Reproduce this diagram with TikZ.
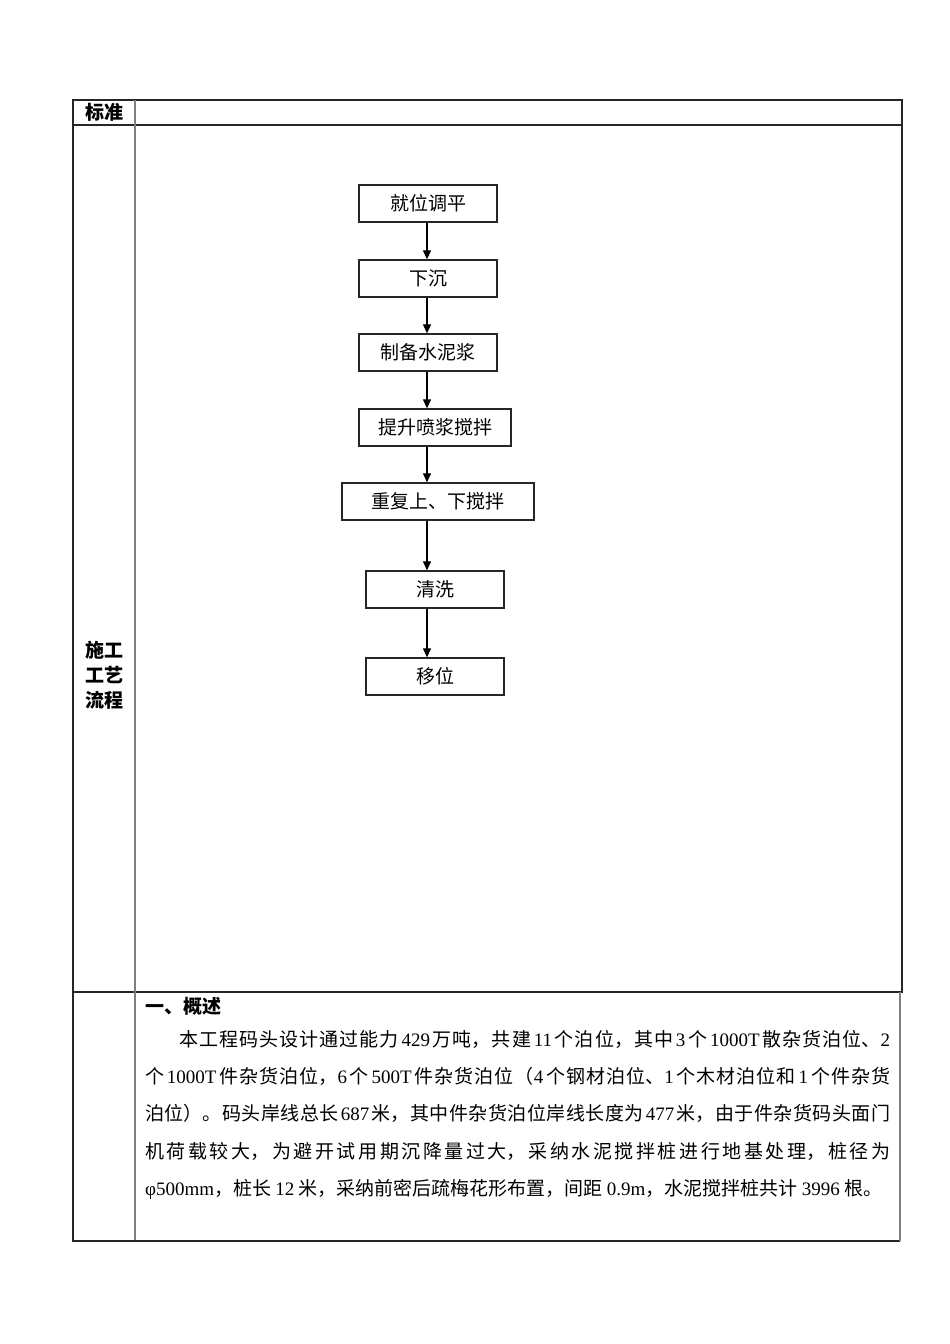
\documentclass[tikz,border=0pt]{standalone}
\usepackage{fontspec}
\setmainfont{Noto Sans CJK SC}
\newfontfamily\lat{Liberation Serif}
\usetikzlibrary{arrows.meta}
\XeTeXlinebreaklocale "zh"
\XeTeXlinebreakskip=0pt plus 4pt
\newcommand\jfill{\noindent\rightskip=0pt\leftskip=0pt\parfillskip=0pt\relax}
\newcommand\ls[1]{\hskip 2pt plus 3pt{\lat #1}\hskip 2pt plus 3pt\relax}
\begin{document}
\begin{tikzpicture}[x=1pt,y=-1pt,
  tline/.style={draw=black!85,line width=1.2pt},
  gline/.style={draw=black!50,line width=1.4pt},
  lab/.style={inner sep=0,font=\bfseries\fontsize{19}{25}\selectfont,align=center},
  stepbox/.style={draw=black!85,line width=1.3pt,minimum height=37pt,inner sep=0,font=\fontsize{19}{22}\selectfont},
  arr/.style={draw=black,line width=1.2pt,-{Triangle[length=9pt,width=8pt]}},
  jline/.style={anchor=base west,inner sep=0,font=\fontsize{19}{37}\selectfont},
  ]
\fill[white] (0,0) rectangle (950,1344);
\useasboundingbox (0,0) rectangle (950,1344);
% table
\draw[tline] (73,100) rectangle (902,992);
\draw[tline] (73,125) -- (902,125);
\draw[gline] (135,100) -- (135,1241);
\draw[tline] (73,992) -- (73,1241) -- (900,1241);
\draw[gline] (900,992) -- (900,1241);
% labels
\node[lab] (biaozhun) at (104.5,112.5) {标准};
\node[lab] (shigong) at (104,675) {施工\\工艺\\流程};
% flowchart
\coordinate (ax) at (427,0);
\node[stepbox,minimum width=138pt] (b1) at (428,203.5) {就位调平};
\node[stepbox,minimum width=138pt] (b2) at (428,278.5) {下沉};
\node[stepbox,minimum width=138pt] (b3) at (428,352.5) {制备水泥浆};
\node[stepbox,minimum width=152pt] (b4) at (435,427.5) {提升喷浆搅拌};
\node[stepbox,minimum width=192pt] (b5) at (438,501.5) {重复上、下搅拌};
\node[stepbox,minimum width=138pt] (b6) at (435,589.5) {清洗};
\node[stepbox,minimum width=138pt] (b7) at (435,676.5) {移位};
\draw[arr] (b1.south -| ax) -- (b2.north -| ax);
\draw[arr] (b2.south -| ax) -- (b3.north -| ax);
\draw[arr] (b3.south -| ax) -- (b4.north -| ax);
\draw[arr] (b4.south -| ax) -- (b5.north -| ax);
\draw[arr] (b5.south -| ax) -- (b6.north -| ax);
\draw[arr] (b6.south -| ax) -- (b7.north -| ax);
% paragraph
\node[anchor=base west,inner sep=0,font=\bfseries\fontsize{19}{22}\selectfont] (p0) at (145,1013) {一、概述};
\node[jline,text width=711pt] (p1) at (179,1046) {\jfill 本工程码头设计通过能力\ls{429}万吨，共建\ls{11}个泊位，其中\ls{3}个\ls{1000T}散杂货泊位、{\lat 2}\par};
\node[jline,text width=745pt] (p2) at (145,1083) {\jfill 个\ls{1000T}件杂货泊位，{\lat 6}\hskip 2pt plus 3pt 个\ls{500T}件杂货泊位（{\lat 4}\hskip 2pt plus 3pt 个钢材泊位、{\lat 1}\hskip 2pt plus 3pt 个木材泊位和\ls{1}个件杂货\par};
\node[jline,text width=745pt] (p3) at (145,1120) {\jfill 泊位）。码头岸线总长\ls{687}米，其中件杂货泊位岸线长度为\ls{477}米，由于件杂货码头面门\par};
\node[jline,text width=745pt] (p4) at (145,1158) {\jfill 机荷载较大，为避开试用期沉降量过大，采纳水泥搅拌桩进行地基处理，桩径为\par};
\node[jline] (p5) at (145,1195) {{\lat φ500mm}，桩长 {\lat 12} 米，采纳前密后疏梅花形布置，间距 {\lat 0.9m}，水泥搅拌桩共计 {\lat 3996} 根。};
\end{tikzpicture}
\end{document}
